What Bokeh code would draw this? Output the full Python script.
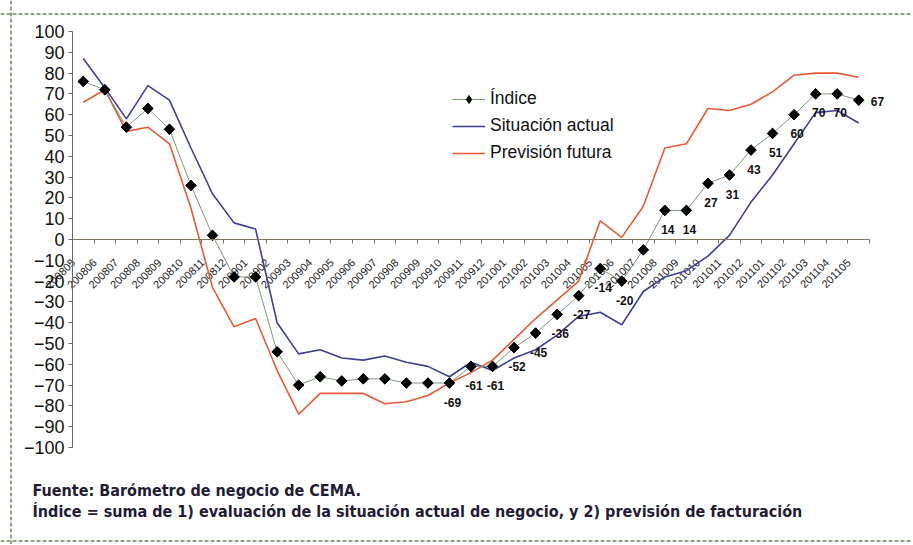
import math
from bokeh.plotting import figure
from bokeh.models import (Range1d, LinearAxis, FixedTicker, Legend, LegendItem,
                          Label, Span, ColumnDataSource)
from bokeh.core.properties import value
from bokeh.embed import file_html
from bokeh.resources import INLINE

meses = ["200805", "200806", "200807", "200808", "200809", "200810", "200811", "200812",
         "200901", "200902", "200903", "200904", "200905", "200906", "200907", "200908",
         "200909", "200910", "200911", "200912", "201001", "201002", "201003", "201004",
         "201005", "201006", "201007", "201008", "201009", "201010", "201011", "201012",
         "201101", "201102", "201103", "201104", "201105"]

indice = [76, 72, 54, 63, 53, 26, 2, -18, -18, -54, -70, -66, -68, -67, -67, -69, -69,
          -69, -61, -61, -52, -45, -36, -27, -14, -20, -5, 14, 14, 27, 31, 43, 51, 60,
          70, 70, 67]

situacion = [87, 73, 58, 74, 67, 44, 22, 8, 5, -40, -55, -53, -57, -58, -56, -59, -61,
             -66, -59, -63, -57, -53, -46, -37, -35, -41, -25, -18, -15, -8, 2, 18, 31,
             46, 61, 62, 56]

prevision = [66, 72, 52, 54, 46, 15, -23, -42, -38, -63, -84, -74, -74, -74, -79, -78,
             -75, -69, -64, -58, -48, -38, -29, -20, 9, 1, 16, 44, 46, 63, 62, 65, 71,
             79, 80, 80, 78]

y_ticks = list(range(-100, 101, 10))
etiquetados_desde = 17   # first month whose value label is shown
sin_etiqueta = [26]      # label hidden behind the axis text

fuente = "Fuente: Barómetro de negocio de CEMA."
nota = ("Índice = suma de 1) evaluación de la situación actual de negocio, "
        "y 2) previsión de facturación")

n = len(meses)
xs = [i + 0.5 for i in range(n)]

W, H = 912, 544
# pixel layout of the chart inside the canvas
X0_PX, X_STEP = 72.0, 21.54      # category axis origin and width of a category
Y0_PX, Y_STEP = 239.0, 2.08      # zero line and pixels per unit


def px_x(px):
    return (px - X0_PX) / X_STEP


def px_y(py):
    return (Y0_PX - py) / Y_STEP


FONT = "'Liberation Sans', Arial, sans-serif"
NARROW = "'Liberation Sans Narrow', 'DejaVu Sans Condensed', 'Liberation Sans', sans-serif"

p = figure(width=W, height=H, output_backend="svg", toolbar_location=None,
           x_range=Range1d(px_x(0), px_x(W)), y_range=Range1d(px_y(H), px_y(0)),
           x_axis_location=None, y_axis_location=None,
           min_border=0, title=None)
p.xgrid.visible = False
p.ygrid.visible = False
p.outline_line_color = None
p.background_fill_color = "white"
p.border_fill_color = "white"

ya = LinearAxis(fixed_location=0, bounds=(-100, 100), ticker=FixedTicker(ticks=y_ticks))
ya.major_label_text_font = FONT
ya.major_label_text_font_size = "18px"
ya.major_label_text_color = "#111111"
ya.axis_line_color = "#666666"
ya.major_tick_line_color = "#666666"
ya.major_tick_out = 4
ya.major_tick_in = 0
ya.minor_tick_line_color = None
ya.major_label_standoff = 4
p.add_layout(ya, "left")

# category axis line with tick marks between the months
xa_line = LinearAxis(fixed_location=0, bounds=(0, n),
                     ticker=FixedTicker(ticks=[], minor_ticks=list(range(n + 1))))
xa_line.axis_line_color = "#7d7459"
xa_line.axis_line_width = 1.2
xa_line.minor_tick_line_color = "#7d7459"
xa_line.minor_tick_out = 4
xa_line.minor_tick_in = 0
xa_line.major_tick_line_color = None
p.add_layout(xa_line, "below")

# month labels, rotated, hanging below the zero line
p.text(x=xs, y=[0] * n, text=meses, angle=math.pi / 4, x_offset=-10, y_offset=21,
       text_align="right", text_baseline="middle", text_font_size="11px",
       text_font=value(FONT), text_color="#222222")

r_sit = p.line(xs, situacion, line_color="#3f3f95", line_width=1.6)
r_pre = p.line(xs, prevision, line_color="#e85a35", line_width=1.6)
r_ind = p.line(xs, indice, line_color="#7a9a78", line_width=1)
r_leg = p.scatter(xs, indice, marker="diamond", size=10,
                  fill_color="black", line_color="black")
r_mk = p.scatter(xs, indice, marker="square", size=7.5, angle=math.pi / 4,
                 fill_color="black", line_color="black")

lab_idx = [i for i in range(etiquetados_desde, n - 1) if i not in sin_etiqueta]
src = ColumnDataSource(dict(x=[xs[i] for i in lab_idx], y=[indice[i] for i in lab_idx],
                            t=[str(indice[i]) for i in lab_idx]))
p.text(x="x", y="y", text="t", source=src, x_offset=3, y_offset=19,
       text_align="center", text_baseline="middle", text_font_size="12px",
       text_font_style="bold", text_font=value(FONT), text_color="#111111")
src_last = ColumnDataSource(dict(x=[xs[-1]], y=[indice[-1]], t=[str(indice[-1])]))
p.text(x="x", y="y", text="t", source=src_last, x_offset=12, y_offset=1,
       text_align="left", text_baseline="middle", text_font_size="12px",
       text_font_style="bold", text_font=value(FONT), text_color="#111111")

legend = Legend(items=[LegendItem(label="Índice", renderers=[r_ind, r_leg]),
                       LegendItem(label="Situación actual", renderers=[r_sit]),
                       LegendItem(label="Previsión futura", renderers=[r_pre])],
                location=(452, 381), orientation="vertical",
                label_text_font=FONT, label_text_font_size="17.5px",
                label_text_color="#111111", glyph_width=33, glyph_height=20,
                label_height=20, label_standoff=5, spacing=6, padding=0, margin=0,
                border_line_color=None, background_fill_alpha=0)
p.add_layout(legend)

# dashed frame of the figure (top, left, bottom)
for loc, dim in ((px_y(13.5), "width"), (px_y(540.5), "width"), (px_x(10.5), "height")):
    p.add_layout(Span(location=loc, dimension=dim, line_color="#8fa486",
                      line_width=2, line_dash="4 2"))

for txt, py in ((fuente, 490), (nota, 511)):
    p.add_layout(Label(x=px_x(32), y=px_y(py), text=txt,
                       text_font=NARROW, text_font_size="16px", text_font_style="bold",
                       text_color="#231c33", text_baseline="middle", text_align="left"))

open("out.html", "w").write(file_html(p, INLINE))
